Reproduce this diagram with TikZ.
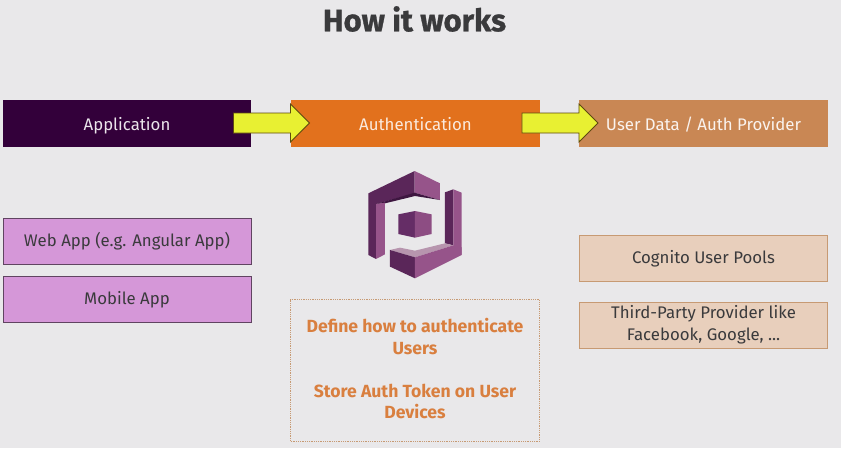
\documentclass[tikz,border=0pt]{standalone}
\usepackage{fontspec}
\setmainfont{Fira Sans}
\newfontfamily\heavyfont[BoldFeatures={FakeBold=0.9}]{Fira Sans}
\definecolor{bg}{HTML}{E9E8EA}
\definecolor{appc}{HTML}{33003A}
\definecolor{authc}{HTML}{E2711D}
\definecolor{userc}{HTML}{C98754}
\definecolor{lilac}{HTML}{D597D8}
\definecolor{peach}{HTML}{E8CFBC}
\definecolor{peachl}{HTML}{C79A73}
\definecolor{arrowf}{HTML}{E8F032}
\definecolor{arrowd}{HTML}{5E4A10}
\definecolor{ink}{HTML}{3A3A3C}
\definecolor{icd}{HTML}{5A2659}
\definecolor{icm}{HTML}{652D66}
\definecolor{icl}{HTML}{96548A}
\definecolor{icp}{HTML}{B795AE}
\definecolor{icx}{HTML}{3E1640}
\definecolor{boldc}{HTML}{D97F3F}
\tikzset{
  head/.style={draw=none,minimum width=248.5,minimum height=47,inner sep=0,text=white,text depth=0pt,font=\fontsize{16.8}{18}\selectfont},
  sub/.style={minimum width=248,minimum height=46,inner sep=0,font=\fontsize{16.8}{22}\selectfont,align=center,text=ink},
  flow/.style={draw=arrowd,fill=arrowf,line width=.9,line join=miter}
}
\begin{document}
\begin{tikzpicture}[x=1pt,y=-1pt]
\useasboundingbox (0,0) rectangle (841,448);
\fill[bg] (0,0) rectangle (841,448);
\node[font=\fontsize{31}{34}\heavyfont\bfseries\selectfont,text=ink] (title) at (414.5,19) {How it works};
\node[head,fill=appc,text=white!90!appc] (app) at (127,123.5) {Application};
\node[head,fill=authc,text=white!85!authc] (auth) at (415.5,123.5) {Authentication};
\node[head,fill=userc,text=white!90!userc] (user) at (703.5,123.5) {User Data / Auth Provider};
\draw[flow] ([xshift=-18]app.east) ++(0,-10.5) -- ++(57,0) -- ++(0,-9) -- ++(19,19) -- ++(-19,19) -- ++(0,-9) -- ++(-57,0) -- cycle;
\draw[flow] ([xshift=-18]auth.east) ++(0,-10.5) -- ++(57,0) -- ++(0,-9) -- ++(19,19) -- ++(-19,19) -- ++(0,-9) -- ++(-57,0) -- cycle;
\node[sub,fill=lilac,draw=lilac!45!black] (web) at (127,241.5) {\raisebox{-1pt}{Web App (e.g. Angular App)}};
\node[sub,fill=lilac,draw=lilac!45!black] (mobile) at (127,299.5) {\raisebox{-1pt}{Mobile App}};
\node[sub,fill=peach,draw=peachl] (pools) at (703.5,258.5) {\raisebox{-1pt}{Cognito User Pools}};
\node[sub,fill=peach,draw=peachl] (third) at (703.5,325) {Third-Party Provider like\\Facebook, Google, ...};
\node[draw=peachl,densely dotted,line width=.8,minimum width=248.5,minimum height=142,inner sep=0,align=center,text=boldc,font=\fontsize{17.6}{21.5}\bfseries\selectfont] (def) at (415,370.5) {Define how to authenticate\\Users\\[21.5pt]Store Auth Token on User\\Devices\\[-17.5pt]\mbox{}};
\begin{scope}[shift={(340,160)},x=.3333pt,y=-.3333pt]
\fill[icd] (85,100) -- (224,33) -- (224,100) -- (108,132) -- (108,297) -- (85,285) -- cycle;
\fill[icl] (224,33) -- (300,70) -- (300,120) -- (224,98) -- cycle;
\fill[icx] (108,132) -- (224,98) -- (300,120) -- (225,108) -- (135,130) -- cycle;
\fill[icl] (108,132) -- (135,128) -- (135,283) -- (108,297) -- cycle;
\fill[icd] (315,97) -- (340,88) -- (340,256) -- (315,250) -- cycle;
\fill[icl] (340,88) -- (365,98) -- (365,285) -- (340,256) -- cycle;
\fill[icp] (150,270) -- (180,263) -- (225,272) -- (315,250) -- (340,256) -- (225,292) -- cycle;
\fill[icd] (150,270) -- (225,292) -- (225,355) -- (150,320) -- cycle;
\fill[icl] (225,292) -- (340,256) -- (365,262) -- (365,285) -- (225,355) -- cycle;
\fill[icm] (175,163) -- (225,153) -- (225,233) -- (175,222) -- cycle;
\fill[icl!85!icd] (225,153) -- (275,163) -- (275,222) -- (225,233) -- cycle;
\end{scope}
\end{tikzpicture}
\end{document}
